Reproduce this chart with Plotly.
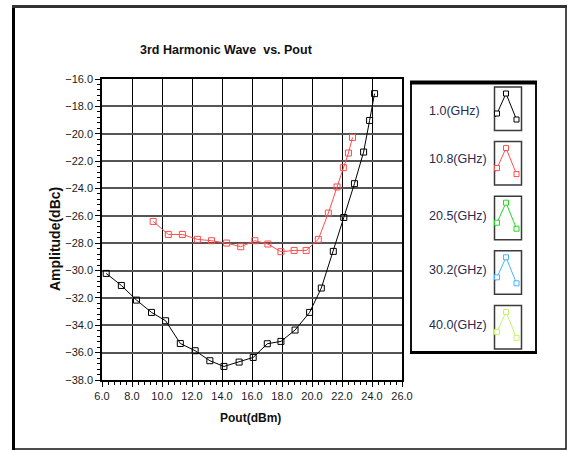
import plotly.graph_objects as go

# Harmonic sweep data (Pout in dBm, 3rd-harmonic amplitude in dBc)
pout_1ghz = [6.28, 7.29, 8.30, 9.30, 10.24, 11.22, 12.21, 13.19, 14.13, 15.14, 16.08,
             17.02, 17.93, 18.87, 19.84, 20.62, 21.42, 22.12, 22.83, 23.44, 23.84, 24.17]
amp_1ghz = [-30.21, -31.09, -32.16, -33.06, -33.67, -35.33, -35.86, -36.59, -37.01, -36.69, -36.35,
            -35.35, -35.18, -34.35, -33.06, -31.28, -28.60, -26.12, -23.65, -21.34, -19.03, -17.07]

pout_10g8 = [9.41, 10.42, 11.36, 12.36, 13.30, 14.31, 15.25, 16.19, 17.06, 17.93, 18.81,
             19.61, 20.42, 21.09, 21.67, 22.09, 22.43, 22.70]
amp_10g8 = [-26.41, -27.36, -27.36, -27.72, -27.82, -27.99, -28.26, -27.82, -28.06, -28.62, -28.53,
            -28.53, -27.72, -25.80, -23.89, -22.48, -21.41, -20.27]

freq_labels = ["1.0(GHz)", "10.8(GHz)", "20.5(GHz)", "30.2(GHz)", "40.0(GHz)"]
series_colors = ["#000000", "#ff4d4d", "#1fdc1f", "#45b4ff", "#c6f56a"]
series_x = [pout_1ghz, pout_10g8, [], [], []]
series_y = [amp_1ghz, amp_10g8, [], [], []]

x_ticks = [6, 8, 10, 12, 14, 16, 18, 20, 22, 24, 26]
y_ticks = [-16, -18, -20, -22, -24, -26, -28, -30, -32, -34, -36, -38]

W, H = 569, 450
L, R, T, B = 102, 402, 79, 380


def px(x):
    return (x - L) / (R - L)


def py(y):
    return (B - y) / (B - T)


fig = go.Figure()
for lab, col, xs, ys in zip(freq_labels, series_colors, series_x, series_y):
    fig.add_trace(go.Scatter(
        x=xs, y=ys, name=lab, mode="lines+markers",
        line=dict(color=col, width=1),
        marker=dict(symbol="square-open", size=6, color=col, line=dict(width=1, color=col)),
        showlegend=False,
    ))

shapes = []
annotations = []

# outer frame
shapes.append(dict(type="rect", xref="paper", yref="paper",
                   x0=px(13), x1=px(566), y0=py(6), y1=py(449),
                   line=dict(color="#111", width=1.5)))
shapes.append(dict(type="line", xref="paper", yref="paper",
                   x0=px(13.5), x1=px(13.5), y0=py(5), y1=py(450),
                   line=dict(color="#000", width=3)))
shapes.append(dict(type="line", xref="paper", yref="paper",
                   x0=px(12), x1=px(567), y0=py(6.5), y1=py(6.5),
                   line=dict(color="#333", width=3)))

# legend panel
shapes.append(dict(type="rect", xref="paper", yref="paper",
                   x0=px(411), x1=px(536), y0=py(82), y1=py(353),
                   line=dict(color="#111", width=2), fillcolor="white", layer="below"))
shapes.append(dict(type="line", xref="paper", yref="paper",
                   x0=px(410), x1=px(537), y0=py(82.5), y1=py(82.5),
                   line=dict(color="#000", width=4)))
shapes.append(dict(type="line", xref="paper", yref="paper",
                   x0=px(410), x1=px(537), y0=py(352.5), y1=py(352.5),
                   line=dict(color="#000", width=3)))

label_rows = [111, 158.5, 215.5, 270, 325]
for i, (lab, col) in enumerate(zip(freq_labels, series_colors)):
    top = 87 + i * 54.6
    bx0, bx1 = 494.5, 521.5
    shapes.append(dict(type="rect", xref="paper", yref="paper",
                       x0=px(bx0), x1=px(bx1), y0=py(top), y1=py(top + 43.5),
                       line=dict(color="#3a3a3a", width=1.5)))
    pts = [(bx0 + 2.5, top + 26.5), (bx0 + 11.5, top + 6.5), (bx0 + 22, top + 32.5)]
    path = "M {} {} L {} {} L {} {}".format(
        px(bx0 + 1), py(top + 30), px(pts[1][0]), py(pts[1][1]), px(pts[2][0]), py(pts[2][1]))
    shapes.append(dict(type="path", xref="paper", yref="paper", path=path,
                       line=dict(color=col, width=1)))
    for (mx, my) in pts:
        shapes.append(dict(type="rect", xref="paper", yref="paper",
                           x0=px(mx - 2.5), x1=px(mx + 2.5), y0=py(my - 2.5), y1=py(my + 2.5),
                           line=dict(color=col, width=1), fillcolor="white"))
    annotations.append(dict(xref="paper", yref="paper", x=px(427), y=py(label_rows[i]),
                            xanchor="left", yanchor="middle", showarrow=False, text=lab,
                            font=dict(family="Liberation Sans, Arial, sans-serif",
                                      size=12.5, color="#2a2a50")))

# title and axis titles
annotations.append(dict(xref="paper", yref="paper", x=px(226), y=py(50), xanchor="center",
                        yanchor="middle", showarrow=False,
                        text="<b>3rd Harmonic Wave\u00a0\u00a0vs. Pout</b>",
                        font=dict(family="Liberation Sans, Arial, sans-serif", size=12.5, color="#111")))
annotations.append(dict(xref="paper", yref="paper", x=px(250), y=py(418), xanchor="center",
                        yanchor="middle", showarrow=False, text="<b>Pout(dBm)</b>",
                        font=dict(family="Liberation Sans, Arial, sans-serif", size=12, color="#111")))
annotations.append(dict(xref="paper", yref="paper", x=px(55), y=py(239), xanchor="center",
                        yanchor="middle", showarrow=False, text="<b>Amplitude(dBc)</b>", textangle=-90,
                        font=dict(family="Liberation Sans, Arial, sans-serif", size=14, color="#111")))

fig.update_layout(
    width=W, height=H,
    margin=dict(l=L, r=W - R, t=T, b=H - B, pad=0),
    paper_bgcolor="white", plot_bgcolor="white",
    shapes=shapes, annotations=annotations,
    font=dict(family="Liberation Sans, Arial, sans-serif", size=11, color="#1a1a1a"),
    showlegend=False,
)
fig.update_xaxes(
    range=[6, 26], tickvals=x_ticks, tickformat=".1f",
    showgrid=True, gridcolor="#000", gridwidth=1.3,
    showline=True, linecolor="#000", linewidth=1.5, mirror=True,
    ticks="outside", ticklen=5, tickcolor="#000", tickwidth=1,
    minor=dict(dtick=0.4, ticks="outside", ticklen=3, tickcolor="#000", showgrid=False),
    zeroline=False, tickfont=dict(size=11),
)
fig.update_yaxes(
    range=[-38, -16], tickvals=y_ticks, tickformat=".1f",
    showgrid=True, gridcolor="#555", gridwidth=1.8,
    showline=True, linecolor="#000", linewidth=1.5, mirror=True,
    ticks="outside", ticklen=5, tickcolor="#000", tickwidth=1,
    minor=dict(dtick=0.4, tick0=-38, ticks="outside", ticklen=3, tickcolor="#000", showgrid=False),
    zeroline=False, tickfont=dict(size=11),
)

fig.write_html("out.html")
